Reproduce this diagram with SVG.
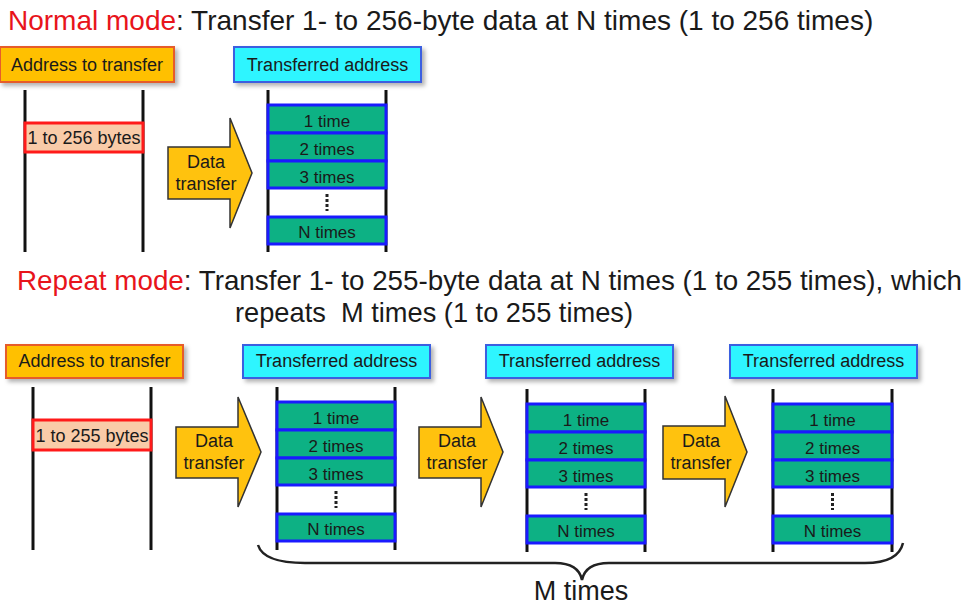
<svg xmlns="http://www.w3.org/2000/svg" width="968" height="605" viewBox="0 0 968 605">
  <defs>
    <filter id="shadow" x="-10%" y="-30%" width="130%" height="180%">
      <feDropShadow dx="3" dy="3" stdDeviation="2" flood-color="#000" flood-opacity="0.3"/>
    </filter>
    <style>
      text { font-family: "Liberation Sans", Arial, sans-serif; fill: #1a1a1a; }
      .title { font-size: 28px; white-space: pre; }
      .mode { fill: #e8141b; }
      .lbl { font-size: 18px; text-anchor: middle; }
      .row { font-size: 17px; text-anchor: middle; }
      .src { fill: #ffc000; stroke: #e65b2a; stroke-width: 2; filter: url(#shadow); }
      .dst { fill: #2ff5ff; stroke: #3a5fe0; stroke-width: 2; filter: url(#shadow); }
      .rail { stroke: #111; stroke-width: 3; }
      .cell { fill: #0db184; stroke: #1a1aff; stroke-width: 3; }
      .bytes { fill: #f9cba8; stroke: #ff1a1a; stroke-width: 3; }
      .dots { stroke: #222; stroke-width: 3; stroke-dasharray: 3 2; }
      .arrow { fill: #ffc20e; stroke: #333; stroke-width: 1.5; stroke-linejoin: miter; }
      .brace { fill: none; stroke: #222; stroke-width: 2.5; }
    </style>
  </defs>

  <!-- headings -->
  <text class="title" x="8" y="30"><tspan class="mode">Normal mode</tspan>: Transfer 1- to 256-byte data at N times (1 to 256 times)</text>
  <text class="title" x="17" y="290" textLength="945" lengthAdjust="spacingAndGlyphs"><tspan class="mode">Repeat mode</tspan>: Transfer 1- to 255-byte data at N times (1 to 255 times), which</text>
  <text class="title" x="235" y="322" textLength="398" lengthAdjust="spacingAndGlyphs">repeats  M times (1 to 255 times)</text>

  <!-- ===== Normal mode ===== -->
  <g id="normal-src-label">
    <rect class="src" x="0" y="47" width="174" height="35"/>
    <text class="lbl" x="87" y="71">Address to transfer</text>
  </g>
  <g id="normal-src" transform="translate(25,90)">
    <line class="rail" x1="0" y1="0" x2="0" y2="162"/>
    <line class="rail" x1="118" y1="0" x2="118" y2="162"/>
    <rect class="bytes" x="0" y="33" width="118" height="29"/>
    <text class="lbl" x="59" y="54">1 to 256 bytes</text>
  </g>
  <g id="normal-arrow" transform="translate(168,173)">
    <polygon class="arrow" points="0,-26 62,-26 62,-55 84,0 62,55 62,26 0,26"/>
    <text class="lbl" x="38" y="-5">Data</text>
    <text class="lbl" x="38" y="17">transfer</text>
  </g>
  <g id="normal-dst-label">
    <rect class="dst" x="234" y="47" width="187" height="35"/>
    <text class="lbl" x="327.5" y="71">Transferred address</text>
  </g>
  <g id="normal-dst" transform="translate(268,90)">
    <line class="rail" x1="0" y1="0" x2="0" y2="162"/>
    <line class="rail" x1="118" y1="0" x2="118" y2="162"/>
    <rect class="cell" x="0" y="15" width="118" height="28"/>
    <rect class="cell" x="0" y="43" width="118" height="28"/>
    <rect class="cell" x="0" y="71" width="118" height="27"/>
    <rect class="cell" x="0" y="127" width="118" height="27"/>
    <line class="dots" x1="59" y1="104" x2="59" y2="121"/>
    <text class="row" x="59" y="37">1 time</text>
    <text class="row" x="59" y="65">2 times</text>
    <text class="row" x="59" y="93">3 times</text>
    <text class="row" x="59" y="148">N times</text>
  </g>

  <!-- ===== Repeat mode ===== -->
  <g id="repeat-src-label">
    <rect class="src" x="6" y="345" width="177" height="33"/>
    <text class="lbl" x="94.5" y="367">Address to transfer</text>
  </g>
  <g id="repeat-src" transform="translate(33,387)">
    <line class="rail" x1="0" y1="0" x2="0" y2="163"/>
    <line class="rail" x1="118" y1="0" x2="118" y2="163"/>
    <rect class="bytes" x="0" y="33" width="118" height="30"/>
    <text class="lbl" x="59" y="55">1 to 255 bytes</text>
  </g>

  <g id="repeat-arrow-1" transform="translate(176,452)">
    <polygon class="arrow" points="0,-25 62,-25 62,-55 85,0 62,55 62,26 0,26"/>
    <text class="lbl" x="38" y="-5">Data</text>
    <text class="lbl" x="38" y="17">transfer</text>
  </g>
  <g id="repeat-dst-label-1">
    <rect class="dst" x="243" y="345" width="187" height="33"/>
    <text class="lbl" x="336.5" y="367">Transferred address</text>
  </g>
  <g id="repeat-dst-1" transform="translate(277,387)">
    <line class="rail" x1="0" y1="0" x2="0" y2="163"/>
    <line class="rail" x1="118" y1="0" x2="118" y2="163"/>
    <rect class="cell" x="0" y="15" width="118" height="28"/>
    <rect class="cell" x="0" y="43" width="118" height="28"/>
    <rect class="cell" x="0" y="71" width="118" height="27"/>
    <rect class="cell" x="0" y="127" width="118" height="27"/>
    <line class="dots" x1="59" y1="104" x2="59" y2="121"/>
    <text class="row" x="59" y="37">1 time</text>
    <text class="row" x="59" y="65">2 times</text>
    <text class="row" x="59" y="93">3 times</text>
    <text class="row" x="59" y="148">N times</text>
  </g>

  <g id="repeat-arrow-2" transform="translate(419,452)">
    <polygon class="arrow" points="0,-25 62,-25 62,-55 84,0 62,55 62,26 0,26"/>
    <text class="lbl" x="38" y="-5">Data</text>
    <text class="lbl" x="38" y="17">transfer</text>
  </g>
  <g id="repeat-dst-label-2">
    <rect class="dst" x="486" y="345" width="187" height="33"/>
    <text class="lbl" x="579.5" y="367">Transferred address</text>
  </g>
  <g id="repeat-dst-2" transform="translate(527,389)">
    <line class="rail" x1="0" y1="0" x2="0" y2="163"/>
    <line class="rail" x1="118" y1="0" x2="118" y2="163"/>
    <rect class="cell" x="0" y="15" width="118" height="28"/>
    <rect class="cell" x="0" y="43" width="118" height="28"/>
    <rect class="cell" x="0" y="71" width="118" height="27"/>
    <rect class="cell" x="0" y="127" width="118" height="27"/>
    <line class="dots" x1="59" y1="104" x2="59" y2="121"/>
    <text class="row" x="59" y="37">1 time</text>
    <text class="row" x="59" y="65">2 times</text>
    <text class="row" x="59" y="93">3 times</text>
    <text class="row" x="59" y="148">N times</text>
  </g>

  <g id="repeat-arrow-3" transform="translate(663,452)">
    <polygon class="arrow" points="0,-26 62,-26 62,-56 84,0 62,55 62,27 0,27"/>
    <text class="lbl" x="38" y="-5">Data</text>
    <text class="lbl" x="38" y="17">transfer</text>
  </g>
  <g id="repeat-dst-label-3">
    <rect class="dst" x="730" y="345" width="187" height="33"/>
    <text class="lbl" x="823.5" y="367">Transferred address</text>
  </g>
  <g id="repeat-dst-3" transform="translate(773,389)">
    <line class="rail" x1="0" y1="0" x2="0" y2="163"/>
    <line class="rail" x1="119" y1="0" x2="119" y2="163"/>
    <rect class="cell" x="0" y="15" width="119" height="28"/>
    <rect class="cell" x="0" y="43" width="119" height="28"/>
    <rect class="cell" x="0" y="71" width="119" height="27"/>
    <rect class="cell" x="0" y="127" width="119" height="27"/>
    <line class="dots" x1="59.5" y1="104" x2="59.5" y2="121"/>
    <text class="row" x="59.5" y="37">1 time</text>
    <text class="row" x="59.5" y="65">2 times</text>
    <text class="row" x="59.5" y="93">3 times</text>
    <text class="row" x="59.5" y="148">N times</text>
  </g>

  <!-- brace spanning the repeated blocks -->
  <g id="connectors">
    <path class="brace" d="M258,545 C262,558 280,563 305,563 L555,563 C572,563 580,570 582,580 C584,570 592,563 609,563 L865,563 C888,563 900,556 903,543"/>
  </g>
  <g id="m-times">
    <text x="581" y="600" text-anchor="middle" style="font-size:27px">M times</text>
  </g>
</svg>
